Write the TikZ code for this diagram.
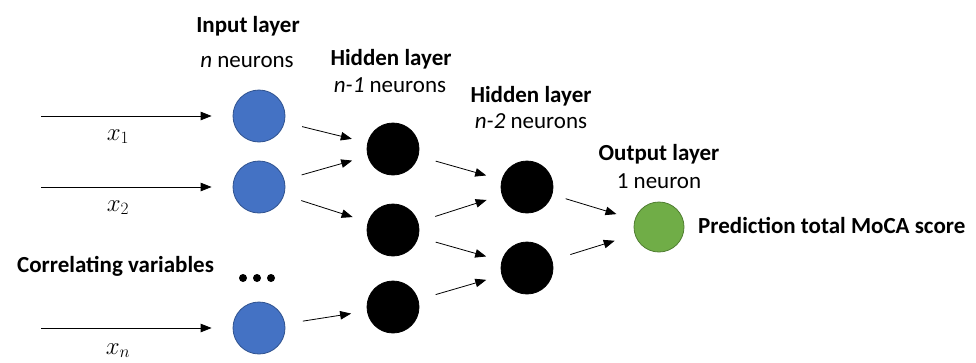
\documentclass[tikz,border=0pt]{standalone}
\usepackage{fontspec}
\setmainfont{Carlito}
\usetikzlibrary{arrows.meta}
\definecolor{inblue}{HTML}{4472C4}
\definecolor{inblueline}{HTML}{2F528F}
\definecolor{outgreen}{HTML}{70AD47}
\definecolor{outgreenline}{HTML}{507E32}
\tikzset{
  neuron/.style={circle, minimum size=52pt, inner sep=0pt, line width=0.8pt},
  inneuron/.style={neuron, fill=inblue, draw=inblueline},
  hidneuron/.style={neuron, fill=black, draw=black},
  outneuron/.style={neuron, minimum size=50pt, fill=outgreen, draw=outgreenline},
  arr/.style={line width=0.8pt, -{Triangle[length=11pt,width=8.5pt]}},
  link/.style={arr, shorten <=18pt, shorten >=16pt},
  title/.style={font=\fontsize{23}{27}\selectfont\bfseries, anchor=base, inner sep=0pt},
  sub/.style={font=\fontsize{23}{27}\selectfont, anchor=base, inner sep=0pt},
  varlabel/.style={font=\fontsize{23}{27}\selectfont, anchor=base, inner sep=0pt}
}
\begin{document}
\begin{tikzpicture}[x=1pt, y=-1pt]
\useasboundingbox (0,0) rectangle (976,362);

% input layer
\node[inneuron] (i1) at (259,116) {};
\node[inneuron] (i2) at (259,187) {};
\node[inneuron] (i3) at (259,328) {};
% first hidden layer
\node[hidneuron] (a1) at (393,149) {};
\node[hidneuron] (a2) at (393,230) {};
\node[hidneuron] (a3) at (393,307) {};
% second hidden layer
\node[hidneuron] (b1) at (527,187) {};
\node[hidneuron] (b2) at (527,268) {};
% output layer
\node[outneuron] (o) at (659,227) {};

% input arrows
\coordinate (s1) at (41,116);
\coordinate (s2) at (41,187);
\coordinate (s3) at (41,328);
\draw[arr, shorten >=21pt] (s1) -- (i1);
\draw[arr, shorten >=21pt] (s2) -- (i2);
\draw[arr, shorten >=21pt] (s3) -- (i3);
\node[varlabel] (x1) at (118,140) {$x_1$};
\node[varlabel] (x2) at (118,211) {$x_2$};
\node[varlabel] (xn) at (118,354) {$x_n$};

% connections
\draw[link] (i1) -- (a1);
\draw[link] (i2) -- (a1);
\draw[link] (i2) -- (a2);
\draw[link] (i3) -- (a3);
\draw[link] (a1) -- (b1);
\draw[link] (a2) -- (b1);
\draw[link] (a2) -- (b2);
\draw[link] (a3) -- (b2);
\draw[link, shorten <=14pt, shorten >=19pt] (b1) -- (o);
\draw[link, shorten <=19pt, shorten >=21pt] (b2) -- (o);

% ellipsis between input neurons
\foreach \dx in {243,257,271}
  \fill (\dx,278) circle (4pt);

% layer titles
\node[title] (tin) at (248,32) {Input layer};
\node[sub] (sin) at (247,67) {\textit{n} neurons};
\node[title] (th1) at (391,65) {Hidden layer};
\node[sub] (sh1) at (390,92) {\textit{n-1} neurons};
\node[title] (th2) at (531,102) {Hidden layer};
\node[sub] (sh2) at (531,128) {\textit{n-2} neurons};
\node[title] (tout) at (659,160) {Output layer};
\node[sub] (sout) at (659,188) {1 neuron};

\node[title, anchor=base west] (corr) at (17,272) {Correlating variables};
\node[title, anchor=base west] (pred) at (698,233) {Prediction total MoCA score};
\end{tikzpicture}
\end{document}
